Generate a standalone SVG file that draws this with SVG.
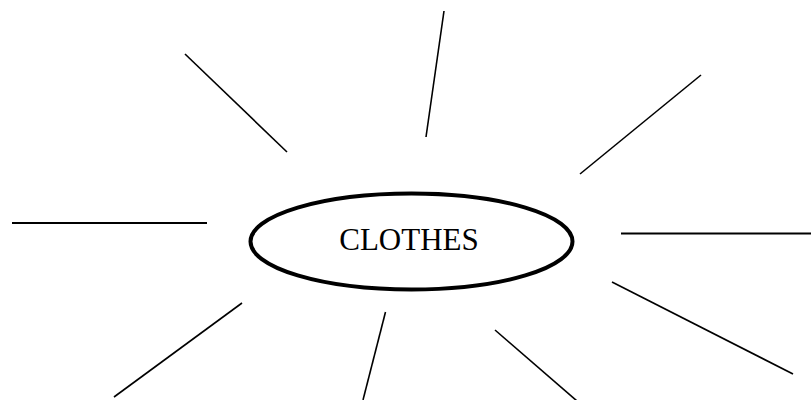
<svg xmlns="http://www.w3.org/2000/svg" width="811" height="400" viewBox="0 0 811 400">
<style>
.ray{stroke:#000;stroke-width:1.6;fill:none}
.hray{stroke:#000;stroke-width:2;fill:none}
.center{fill:#fff;stroke:#000;stroke-width:4}
.label{font-family:"Liberation Serif","Times New Roman",serif;font-size:31px;fill:#000}
</style>
<rect width="811" height="400" fill="#fff"/>
<g id="connectors">
<line class="ray" x1="185" y1="54" x2="287" y2="152"/>
<line class="ray" x1="444" y1="11" x2="426" y2="137"/>
<line class="ray" x1="701" y1="75" x2="580" y2="174"/>
<line class="hray" x1="12" y1="223" x2="207" y2="223"/>
<line class="hray" x1="621" y1="233.5" x2="811" y2="233.5"/>
<line class="ray" x1="242" y1="303" x2="114" y2="397"/>
<line class="ray" x1="385.5" y1="312" x2="363" y2="400"/>
<line class="ray" x1="495" y1="330" x2="577" y2="401"/>
<line class="ray" x1="612" y1="282" x2="793" y2="374"/>
</g>
<g id="clothes">
<ellipse class="center" cx="411.5" cy="241.5" rx="161" ry="48"/>
<text class="label" x="409" y="250" text-anchor="middle">CLOTHES</text>
</g>
</svg>
